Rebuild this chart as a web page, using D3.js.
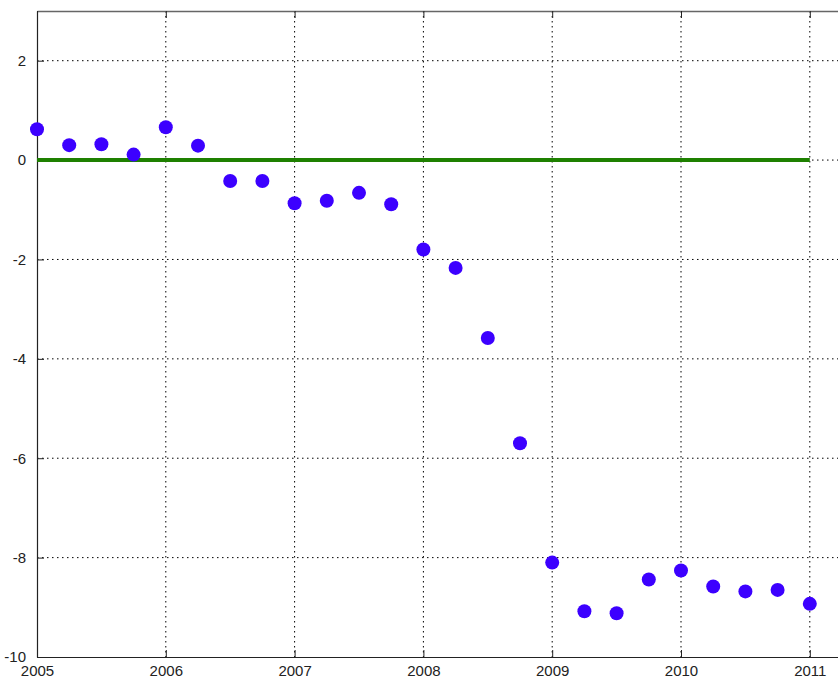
<!DOCTYPE html>
<html>
<head>
<meta charset="utf-8">
<script src="https://cdn.jsdelivr.net/npm/d3@7"></script>
<style>
  body { margin: 0; background: #fff; }
  svg { display: block; }
  .tick text { font-family: "Liberation Sans", Arial, sans-serif; font-size: 15px; fill: #222; }
</style>
</head>
<body>
<svg id="chart" width="838" height="678"></svg>
<script>
// quarterly dates and values
const dates = [2005, 2005.25, 2005.5, 2005.75, 2006, 2006.25, 2006.5, 2006.75,
  2007, 2007.25, 2007.5, 2007.75, 2008, 2008.25, 2008.5, 2008.75,
  2009, 2009.25, 2009.5, 2009.75, 2010, 2010.25, 2010.5, 2010.75, 2011];
const values = [0.62, 0.30, 0.32, 0.11, 0.66, 0.29, -0.42, -0.42,
  -0.87, -0.82, -0.66, -0.89, -1.80, -2.17, -3.58, -5.70,
  -8.10, -9.08, -9.12, -8.44, -8.26, -8.58, -8.68, -8.65, -8.93];
const xTicks = [2005, 2006, 2007, 2008, 2009, 2010, 2011];
const yTicks = [-10, -8, -6, -4, -2, 0, 2];
const zeroLine = [2005, 2011];

const svg = d3.select('#chart');
const m = { left: 37, right: 842, top: 11, bottom: 657 };

const x = d3.scaleLinear().domain([2005, 2011.25]).range([m.left, m.right]);
const y = d3.scaleLinear().domain([-10, 3]).range([m.bottom, m.top]);

// grid
const grid = svg.append('g')
  .attr('stroke', '#000')
  .attr('stroke-width', 1)
  .attr('stroke-dasharray', '1.5,3.5');
grid.selectAll('.gx').data(xTicks.slice(1)).enter().append('line')
  .attr('x1', d => x(d)).attr('x2', d => x(d))
  .attr('y1', m.top).attr('y2', m.bottom);
grid.selectAll('.gy').data(yTicks.slice(1)).enter().append('line')
  .attr('x1', m.left).attr('x2', m.right)
  .attr('y1', d => y(d)).attr('y2', d => y(d));

// axes, ticks pointing inward
const xAxis = svg.append('g')
  .attr('transform', `translate(0,${m.bottom})`)
  .call(d3.axisBottom(x).tickValues(xTicks).tickFormat(d => String(d))
    .tickSizeInner(-7).tickSizeOuter(0).tickPadding(14));
const xTop = svg.append('g')
  .attr('transform', `translate(0,${m.top})`)
  .call(d3.axisTop(x).tickValues(xTicks).tickFormat('')
    .tickSizeInner(-7).tickSizeOuter(0));
const yAxis = svg.append('g')
  .attr('transform', `translate(${m.left},0)`)
  .call(d3.axisLeft(y).tickValues(yTicks).tickFormat(d => String(d))
    .tickSizeInner(-7).tickSizeOuter(0).tickPadding(14));

[xAxis, xTop, yAxis].forEach(g => {
  g.select('.domain').attr('stroke', '#222').attr('stroke-width', 1.2);
  g.selectAll('.tick line').attr('stroke', '#222');
});
xTop.select('.domain').attr('stroke', '#666').attr('stroke-width', 1.5);
xAxis.selectAll('.tick text').attr('dy', '0.35em');
yAxis.selectAll('.tick text').attr('dx', '0.2em');

// zero reference line
svg.append('line')
  .attr('x1', x(zeroLine[0])).attr('x2', x(zeroLine[1]))
  .attr('y1', y(0)).attr('y2', y(0))
  .attr('stroke', '#1e8000')
  .attr('stroke-width', 4);

// points
svg.append('g').selectAll('circle').data(dates).enter().append('circle')
  .attr('cx', d => x(d))
  .attr('cy', (d, i) => y(values[i]))
  .attr('r', 7)
  .attr('fill', '#3c00ff');
</script>
</body>
</html>
